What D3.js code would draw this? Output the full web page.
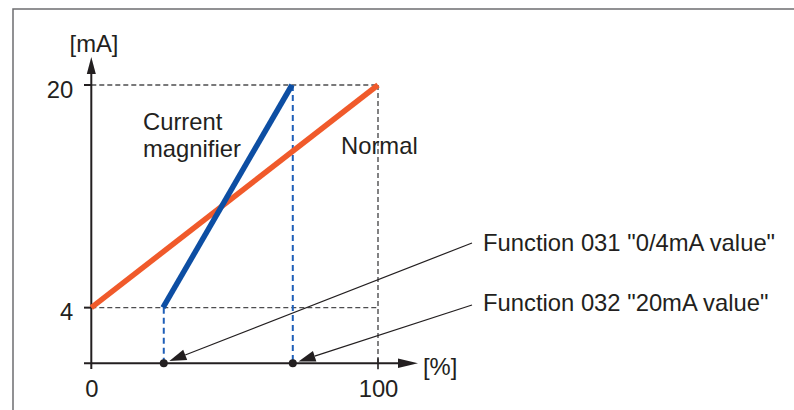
<!DOCTYPE html>
<html>
<head>
<meta charset="utf-8">
<script src="https://cdn.jsdelivr.net/npm/d3@7"></script>
<style>
  html, body { margin: 0; padding: 0; background: #fff; }
  svg { display: block; }
  text { font-family: "Liberation Sans", Arial, Helvetica, sans-serif; fill: #231f20; }
</style>
</head>
<body>
<svg id="chart" width="794" height="410"></svg>
<script>
// ---- data ----
const normalPct = [0, 100];
const normalMA = [4, 20];
const magnifierPct = [25, 70];
const magnifierMA = [4, 20];
const xTickValues = [0, 100];
const yTickValues = [4, 20];
const seriesLabels = ["Current", "magnifier", "Normal"];
const functionLabels = ['Function 031 "0/4mA value"', 'Function 032 "20mA value"'];
const functionTargets = [25, 70];
const xUnit = "[%]";
const yUnit = "[mA]";

// ---- setup ----
const svg = d3.select("#chart");
const x = d3.scaleLinear().domain([0, 100]).range([91.3, 378]);
const y = d3.scaleLinear().domain([0, 20]).range([363.3, 85]);

const ink = "#231f20";
const orange = "#f05a2b";
const blue = "#0d4ea3";
const FS = 23.8;

// frame (top + left)
svg.append("path")
  .attr("d", "M13,410 L13,9 L794,9")
  .attr("fill", "none").attr("stroke", "#6d6e70").attr("stroke-width", 1.5);

// gray dashed guides
const g = svg.append("g").attr("fill", "none").attr("stroke", "#4d4d4f")
  .attr("stroke-width", 1.4).attr("stroke-dasharray", "5,3");
yTickValues.forEach(v => {
  g.append("line").attr("x1", x(0)).attr("x2", x(100)).attr("y1", y(v)).attr("y2", y(v));
});
g.append("line").attr("x1", x(100)).attr("x2", x(100)).attr("y1", y(20)).attr("y2", y(0));

// blue dashed guides
const bg = svg.append("g").attr("fill", "none").attr("stroke", "#1f5fb8")
  .attr("stroke-width", 2).attr("stroke-dasharray", "6,4");
magnifierPct.forEach((p, i) => {
  bg.append("line").attr("x1", x(p) + 0.8).attr("x2", x(p) + 0.8).attr("y1", y(magnifierMA[i])).attr("y2", y(0));
});

// axes
const xAxis = d3.axisBottom(x).tickValues(xTickValues).tickSize(0).tickPadding(0).tickFormat(d3.format("d"));
const yAxis = d3.axisLeft(y).tickValues(yTickValues).tickSize(0).tickPadding(0).tickFormat(d3.format("d"));
const xa = svg.append("g").attr("transform", `translate(0,${y(0)})`).call(xAxis);
xa.select(".domain").remove();
xa.selectAll("text").attr("font-size", FS).attr("fill", ink).attr("dy", null).attr("y", 34)
  .attr("font-family", "Liberation Sans, Arial, sans-serif");
const ya = svg.append("g").attr("transform", `translate(${x(0)},0)`).call(yAxis);
ya.select(".domain").remove();
ya.selectAll("text").attr("font-size", FS).attr("fill", ink).attr("dy", null).attr("x", -18).attr("y", 12)
  .attr("font-family", "Liberation Sans, Arial, sans-serif");

// axis lines
svg.append("line").attr("x1", 84).attr("x2", 402).attr("y1", y(0)).attr("y2", y(0))
  .attr("stroke", ink).attr("stroke-width", 2);
svg.append("line").attr("x1", x(0)).attr("x2", x(0)).attr("y1", 369).attr("y2", 72)
  .attr("stroke", ink).attr("stroke-width", 2);
// tick marks
yTickValues.forEach(v => {
  svg.append("line").attr("x1", 84).attr("x2", x(0)).attr("y1", y(v)).attr("y2", y(v))
    .attr("stroke", ink).attr("stroke-width", 2);
});
svg.append("line").attr("x1", x(100)).attr("x2", x(100)).attr("y1", y(0) - 5).attr("y2", y(0) + 6)
  .attr("stroke", ink).attr("stroke-width", 1.6);
// arrowheads
svg.append("path").attr("d", `M${x(0)},57 L${x(0) - 4.5},74 L${x(0) + 4.5},74 Z`).attr("fill", ink);
svg.append("path").attr("d", `M418,${y(0)} L398,${y(0) - 4.8} L398,${y(0) + 4.8} Z`).attr("fill", ink);

// unit labels
svg.append("text").attr("x", 94).attr("y", 52).attr("text-anchor", "middle").attr("font-size", FS).text(yUnit);
svg.append("text").attr("x", 423).attr("y", 375).attr("font-size", FS).text(xUnit);

// series lines
const line = d3.line().x(d => x(d[0])).y(d => y(d[1]));
svg.append("path").datum(normalPct.map((p, i) => [p, normalMA[i]]))
  .attr("d", line).attr("fill", "none").attr("stroke", orange).attr("stroke-width", 5.5);
svg.append("path").datum(magnifierPct.map((p, i) => [p, magnifierMA[i]]))
  .attr("d", line).attr("fill", "none").attr("stroke", blue).attr("stroke-width", 5.5);

// series labels
svg.append("text").attr("x", 143).attr("y", 130).attr("font-size", FS).text(seriesLabels[0]);
svg.append("text").attr("x", 143).attr("y", 157).attr("font-size", FS).text(seriesLabels[1]);
svg.append("text").attr("x", 341).attr("y", 154).attr("font-size", FS).text(seriesLabels[2]);

// function annotations
const starts = [[472, 243], [472, 305]];
const baselines = [251, 311];
functionLabels.forEach((lab, i) => {
  const tx = x(functionTargets[i]) + 0.8, ty = y(0);
  const [sx, sy] = starts[i];
  const dx = sx - tx, dy = sy - ty, L = Math.hypot(dx, dy);
  const ux = dx / L, uy = dy / L;
  const tipX = tx + ux * 6, tipY = ty + uy * 6;
  const bx = tipX + ux * 17, by = tipY + uy * 17;
  svg.append("line").attr("x1", sx).attr("y1", sy).attr("x2", bx).attr("y2", by)
    .attr("stroke", ink).attr("stroke-width", 1.2);
  svg.append("path")
    .attr("d", `M${tipX},${tipY} L${bx - uy * 5.5},${by + ux * 5.5} L${bx + uy * 5.5},${by - ux * 5.5} Z`)
    .attr("fill", ink);
  svg.append("circle").attr("cx", tx).attr("cy", ty).attr("r", 4).attr("fill", ink);
  svg.append("text").attr("x", 483).attr("y", baselines[i]).attr("font-size", FS).text(lab);
});
</script>
</body>
</html>
